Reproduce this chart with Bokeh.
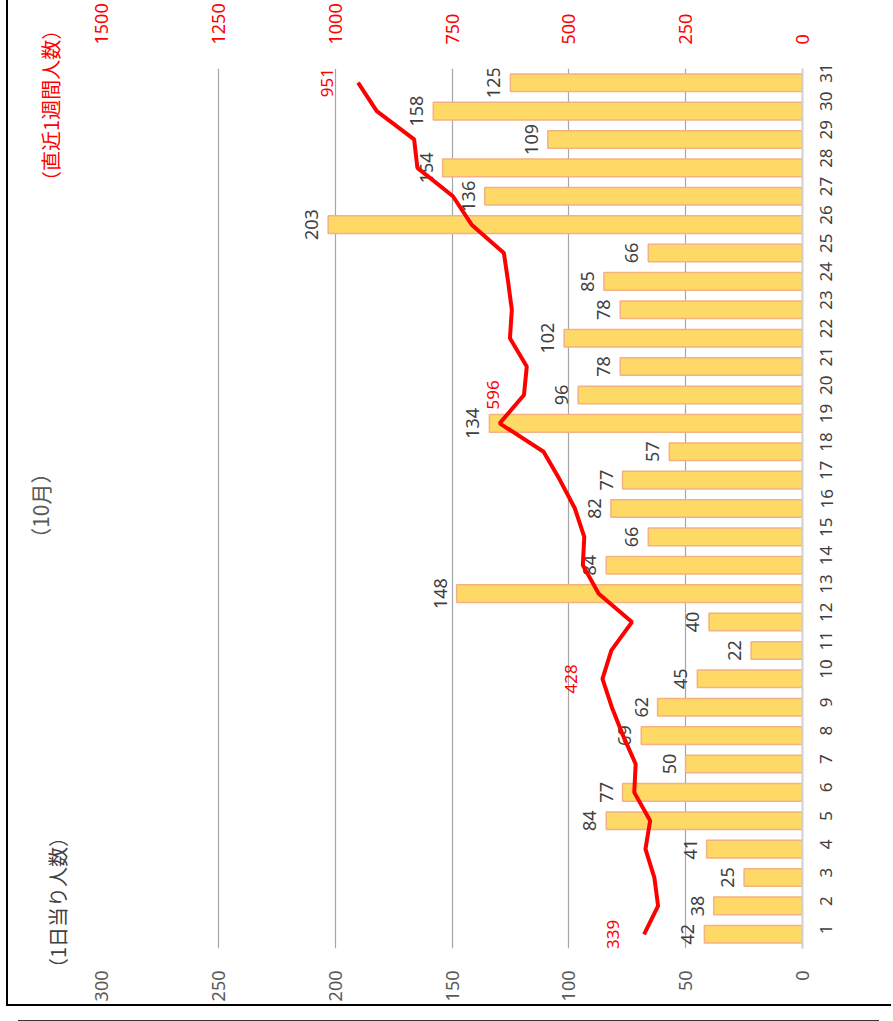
import math
from bokeh.plotting import figure
from bokeh.models import Range1d, LinearAxis, FixedTicker, Label, ColumnDataSource
from bokeh.core.properties import value
from bokeh.embed import file_html
from bokeh.resources import INLINE

# ---------------- data ----------------
days = [1, 2, 3, 4, 5, 6, 7, 8, 9, 10, 11, 12, 13, 14, 15, 16,
        17, 18, 19, 20, 21, 22, 23, 24, 25, 26, 27, 28, 29, 30, 31]
daily = [42, 38, 25, 41, 84, 77, 50, 69, 62, 45, 22, 40, 148, 84, 66, 82,
         77, 57, 134, 96, 78, 102, 78, 85, 66, 203, 136, 154, 109, 158, 125]
weekly = [339, 309, 317, 336, 326, 360, 357, 384, 408, 428, 409, 365, 436, 470, 467, 487,
          519, 554, 648, 596, 590, 626, 622, 630, 639, 708, 748, 824, 831, 911, 951]
weekly_label_days = [1, 10, 20, 31]
primary_ticks = [0, 50, 100, 150, 200, 250, 300]
secondary_ticks = [0, 250, 500, 750, 1000, 1250, 1500]
title_text = "（10月）"
left_title = "（1日当り人数）"
right_title = "（直近1週間人数）"

FONT = "Noto Sans"
JP = "Noto Sans CJK JP"

p = figure(width=885, height=1006,
           x_range=Range1d(300, 0),
           y_range=Range1d(0.5, 31.5),
           output_backend="svg", toolbar_location=None,
           x_axis_location="below", y_axis_location="right",
           min_border_left=93, min_border_right=91, min_border_top=66, min_border_bottom=58)
p.extra_x_ranges = {"week": Range1d(1500, 0)}
p.outline_line_color = None
p.background_fill_color = "white"
p.border_fill_color = "white"
p.styles = {"margin-left": "6px", "border-left": "2px solid #000", "border-bottom": "2px solid #000",
            "box-shadow": "0 26px 0 -12px #ffffff, 0 28px 0 -12px #333333"}

# grid
p.xgrid.ticker = FixedTicker(ticks=primary_ticks[1:])
p.xgrid.grid_line_color = "#a6a6a6"
p.xgrid.grid_line_width = 1.2
p.ygrid.grid_line_color = None

# primary axis (below)
xa = p.xaxis[0]
xa.ticker = FixedTicker(ticks=primary_ticks)
xa.axis_line_color = None
xa.major_tick_line_color = None
xa.minor_tick_line_color = None
xa.major_label_orientation = math.pi / 2
xa.major_label_text_font_size = "18px"
xa.major_label_text_color = "#595959"
xa.major_label_text_font = FONT
xa.major_label_standoff = 16

# secondary axis (above)
sa = LinearAxis(x_range_name="week", ticker=FixedTicker(ticks=secondary_ticks))
sa.axis_line_color = None
sa.major_tick_line_color = None
sa.minor_tick_line_color = None
sa.major_label_orientation = math.pi / 2
sa.major_label_text_font_size = "18px"
sa.major_label_text_color = "#FF0000"
sa.major_label_text_font = FONT
sa.major_label_standoff = 18
p.add_layout(sa, "above")

# day axis (right)
ya = p.yaxis[0]
ya.ticker = FixedTicker(ticks=days)
ya.axis_line_color = "#d0d0d0"
ya.axis_line_width = 2
ya.major_tick_line_color = None
ya.minor_tick_line_color = None
ya.major_label_orientation = math.pi / 2
ya.major_label_text_font_size = "17px"
ya.major_label_text_color = "#404040"
ya.major_label_text_font = FONT
ya.major_label_standoff = 18

# bars
src = ColumnDataSource(dict(days=days, daily=daily, lab=[str(v) for v in daily]))
p.hbar(y="days", left=0, right="daily", height=0.62, source=src,
       fill_color="#FFD966", line_color="#F4B183", line_width=1.5)
p.text(x="daily", y="days", text="lab", source=src, angle=math.pi / 2,
       text_align="center", text_baseline="bottom", x_offset=-10,
       text_font_size="18px", text_color="#404040", text_font=value(FONT))

# weekly line
p.line(x=weekly, y=days, x_range_name="week", line_color="#FF0000", line_width=4)
lab_x = [weekly[days.index(d)] for d in weekly_label_days]
p.text(x=lab_x, y=weekly_label_days, text=[str(v) for v in lab_x], x_range_name="week",
       angle=math.pi / 2, text_align="center", text_baseline="bottom", x_offset=-25,
       text_font_size="17px", text_color="#FF0000", text_font=value(FONT))

# titles (placed in the left side panel so they are not clipped to the frame)
p.add_layout(Label(x=326.5, y=16.1, text=title_text, angle=math.pi / 2,
                   text_align="center", text_baseline="middle",
                   text_font_size="21px", text_color="#595959", text_font=JP), "left")
p.add_layout(Label(x=319, y=2.12, text=left_title, angle=math.pi / 2,
                   text_align="center", text_baseline="middle",
                   text_font_size="20px", text_color="#404040", text_font=JP), "left")
p.add_layout(Label(x=321.7, y=30.2, text=right_title, angle=math.pi / 2,
                   text_align="center", text_baseline="middle",
                   text_font_size="20px", text_color="#FF0000", text_font=JP), "left")

open("out.html", "w").write(file_html(p, INLINE))
